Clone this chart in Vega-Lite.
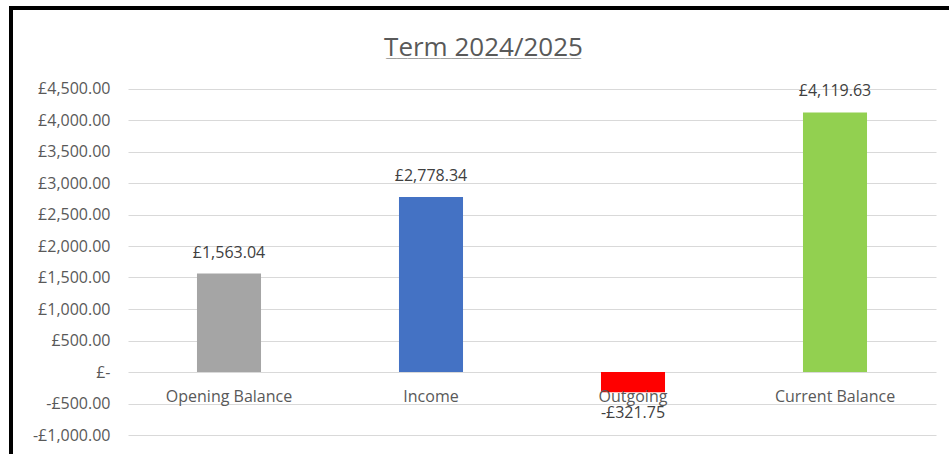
{
  "$schema": "https://vega.github.io/schema/vega-lite/v6.json",
  "autosize": {"type": "none"},
  "padding": {"left": 11, "top": 8, "right": -5, "bottom": -5},
  "width": 943,
  "height": 451,
  "background": "#ffffff",
  "config": {
    "view": {"stroke": "#000000", "strokeWidth": 4},
    "locale": {
      "number": {
        "decimal": ".",
        "thousands": ",",
        "grouping": [3],
        "currency": ["£", ""],
        "minus": "-"
      }
    },
    "font": "Open Sans"
  },
  "title": {
    "text": "Term 2024/2025",
    "subtitle": "__________________",
    "anchor": "middle",
    "frame": "group",
    "orient": "top",
    "offset": -53,
    "dx": 1,
    "font": "Open Sans",
    "fontSize": 26,
    "fontWeight": "normal",
    "color": "#595959",
    "subtitleFont": "DejaVu Sans Mono",
    "subtitleFontSize": 18,
    "subtitleColor": "#595959",
    "subtitlePadding": -20
  },
  "data": {
    "values": [
      {"category": "Opening Balance", "value": 1563.04},
      {"category": "Income", "value": 2778.34},
      {"category": "Outgoing", "value": -321.75},
      {"category": "Current Balance", "value": 4119.63}
    ]
  },
  "encoding": {
    "x": {
      "field": "category",
      "type": "nominal",
      "sort": null,
      "scale": {"range": [117, 925], "paddingInner": 0.683, "paddingOuter": 0.3415},
      "axis": null
    },
    "y": {
      "field": "value",
      "type": "quantitative",
      "scale": {"domain": [-1000, 4500], "range": [427, 80.5], "nice": false, "zero": false},
      "axis": {
        "title": null,
        "values": [-1000, -500, 0, 500, 1000, 1500, 2000, 2500, 3000, 3500, 4000, 4500],
        "labelExpr": "datum.value == 0 ? '£-' : (datum.value < 0 ? '-£' : '£') + format(abs(datum.value), ',.2f')",
        "offset": -104,
        "labelPadding": 5,
        "ticks": false,
        "domain": false,
        "grid": true,
        "gridColor": "#d9d9d9",
        "gridWidth": 1,
        "labelFont": "Open Sans",
        "labelFontSize": 16,
        "labelColor": "#595959"
      }
    }
  },
  "layer": [
    {
      "mark": {"type": "bar"},
      "encoding": {
        "color": {
          "field": "category",
          "type": "nominal",
          "scale": {
            "domain": ["Opening Balance", "Income", "Outgoing", "Current Balance"],
            "range": ["#a5a5a5", "#4472c4", "#ff0000", "#92d050"]
          },
          "legend": null
        }
      }
    },
    {
      "transform": [{"filter": "datum.value >= 0"}],
      "mark": {"type": "text", "baseline": "middle", "dy": -21, "fontSize": 16, "font": "Open Sans", "color": "#404040"},
      "encoding": {"text": {"field": "value", "type": "quantitative", "format": "$,.2f"}}
    },
    {
      "transform": [{"filter": "datum.value < 0"}],
      "mark": {"type": "text", "baseline": "middle", "dy": 21, "fontSize": 16, "font": "Open Sans", "color": "#404040"},
      "encoding": {"text": {"field": "value", "type": "quantitative", "format": "$,.2f"}}
    },
    {
      "mark": {"type": "text", "baseline": "middle", "dy": 25, "fontSize": 16, "font": "Open Sans", "color": "#595959"},
      "encoding": {
        "y": {"datum": 0, "type": "quantitative"},
        "text": {"field": "category", "type": "nominal"}
      }
    }
  ]
}
